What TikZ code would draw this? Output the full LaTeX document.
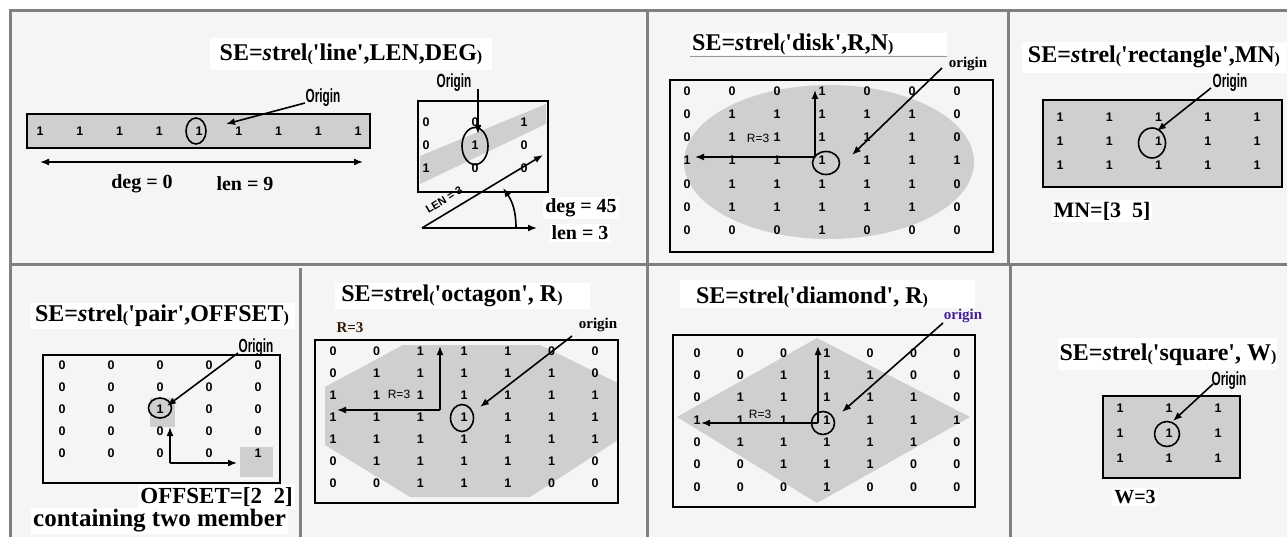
\documentclass[tikz,border=0pt]{standalone}
\usepackage{fontspec}
\setmainfont{Liberation Serif}
\newfontfamily\arl{Liberation Sans}
\usetikzlibrary{arrows.meta,shapes.geometric}
\newcommand\smp[1]{{\fontsize{16}{16}\selectfont\raisebox{-1pt}{#1}}}
\newcommand\q{\textquotesingle}
\newcommand\strl[1]{SE=\textit{s}trel\smp{(}#1\smp{)}}
\newcommand\orgtxt{\scalebox{0.62}[1]{Origin}}
% grid: name, x0, dx, y0, dy, rows
\newcommand\dgrid[6]{%
  \foreach \rw [count=\i] in {#6} {%
    \foreach \v [count=\j] in \rw {%
      \node[dig] (#1-\i-\j) at ({#2+(\j-1)*#3},{#4+(\i-1)*#5}) {\v};
    }
  }%
}
\begin{document}
\begin{tikzpicture}[x=1pt,y=-1pt,
  frm/.style={draw=black!50, line width=3pt},
  ttl/.style={font=\bfseries\fontsize{24}{24}\selectfont, inner sep=0pt},
  dig/.style={font=\arl\bfseries\fontsize{12.5}{12.5}\selectfont, inner sep=0pt},
  mbox/.style={draw=black, line width=2pt},
  gfill/.style={fill=black!19},
  arr/.style={line width=1.6pt, -{Latex[length=9pt,width=7pt]}},
  darr/.style={line width=1.6pt, {Latex[length=9pt,width=7pt]}-{Latex[length=9pt,width=7pt]}},
  orl/.style={font=\arl\bfseries\fontsize{19}{19}\selectfont, inner sep=0pt},
  orig/.style={font=\bfseries\fontsize{15}{15}\selectfont, inner sep=0pt},
  lab/.style={font=\bfseries\fontsize{20}{20}\selectfont, fill=white, inner sep=2pt},
  rlab/.style={font=\arl\fontsize{12}{12}\selectfont, inner sep=0pt},
  org/.style={draw=black, line width=1.6pt, ellipse, inner sep=0pt}
]
\useasboundingbox (0,0) rectangle (1287,537);
\fill[white] (0,0) rectangle (1287,537);
\fill[black!4] (10,11) rectangle (1287,537);
% frame
\draw[frm] (10,537) -- (10,11) -- (1287,11);
\draw[frm] (10,265) -- (1287,265);
\draw[frm] (647,11) -- (647,537);
\draw[frm] (1008,11) -- (1008,265);
\draw[frm] (1010,265) -- (1010,537);
\draw[frm] (300,268) -- (300,537);

% ---------- panel: line ----------
\fill[white] (210,38) rectangle (492,70);
\node[ttl] (t1) at (351,54) {\strl{\q line\q,LEN,DEG}};
\draw[mbox, gfill] (27,114) rectangle (370,148);
\dgrid{L}{40}{39.75}{131}{0}{{1,1,1,1,1,1,1,1,1}}
\node[org, minimum width=20pt, minimum height=26pt] (c1) at (196,131) {};
\node[orl] (o1) at (323,98) {\orgtxt};
\coordinate (o1a) at (305,103);
\coordinate (o1b) at (226,124);
\draw[arr] (o1a) -- (o1b);
\coordinate (dl) at (40,162);
\coordinate (dr) at (363,162);
\draw[darr] (dl) -- (dr);
\node[lab, fill=none] (deg0) at (142,184) {deg = 0};
\node[lab, fill=none] (len9) at (245,184) {len = 9};

% ---------- panel: line 45 ----------
\fill[gfill] (420,156) -- (546,104) -- (546,124) -- (420,184) -- cycle;
\draw[mbox] (418,101) rectangle (548,192);
\dgrid{R}{426}{49}{122}{23}{{0,0,1},{0,1,0},{1,0,0}}
\node[org, minimum width=26pt, minimum height=37pt] (c2) at (475,146) {};
\node[orl] (o2) at (454,83) {\orgtxt};
\coordinate (o2a) at (478,89);
\coordinate (o2b) at (478,134);
\draw[arr] (o2a) -- (o2b);
\coordinate (lo) at (422,228);
\coordinate (lt) at (543,155);
\coordinate (lh) at (537,228);
\draw[arr] (lo) -- (lt);
\draw[arr] (lo) -- (lh);
\node[font=\arl\bfseries\fontsize{11}{11}\selectfont, rotate=31, inner sep=0pt] (lenlab) at (444,200) {LEN = 3};
\coordinate (aa) at (516,228);
\coordinate (ab) at (503,188);
\draw[arr] (aa) to[out=90,in=-55] (ab);
\node[lab] (deg45) at (581,208) {deg = 45};
\node[lab] (len3) at (580,233) {len = 3};

% ---------- panel: disk ----------
\fill[white] (690,33) rectangle (947,55);
\draw[black!40, line width=1pt] (690,57) -- (947,57);
\node[ttl, anchor=west] (t2) at (692,44) {\strl{\q disk\q,R,N}};
\fill[black!19] (829,162) ellipse [x radius=145, y radius=77];
\draw[mbox] (670,80) rectangle (993,252);
\dgrid{D}{687}{45}{91}{23.2}{{0,0,0,1,0,0,0},{0,1,1,1,1,1,0},{0,1,1,1,1,1,0},{1,1,1,1,1,1,1},{0,1,1,1,1,1,0},{0,1,1,1,1,1,0},{0,0,0,1,0,0,0}}
\node[rlab] (rd) at (758,138) {R=3};
\node[org, minimum width=27pt, minimum height=23pt] (c3) at (826,163) {};
\coordinate (dc) at (815,157);
\coordinate (du) at (815,90);
\coordinate (dlft) at (695,157);
\draw[arr] (dc) -- (du);
\draw[arr] (dc) -- (dlft);
\node[orig] (o3) at (968,64) {origin};
\coordinate (o3a) at (942,68);
\coordinate (o3b) at (852,155);
\draw[arr] (o3a) -- (o3b);

% ---------- panel: rectangle ----------
\fill[white] (1022,42) rectangle (1286,73);
\node[ttl] (t3) at (1154,57) {\strl{\q rectangle\q,MN}};
\draw[mbox, gfill] (1043,100) rectangle (1282,187);
\dgrid{Q}{1060}{49.3}{117}{24}{{1,1,1,1,1},{1,1,1,1,1},{1,1,1,1,1}}
\node[org, minimum width=27pt, minimum height=30pt] (c4) at (1152,143) {};
\node[orl] (o4) at (1230,83) {\orgtxt};
\coordinate (o4a) at (1211,88);
\coordinate (o4b) at (1157,131);
\draw[arr] (o4a) -- (o4b);
\node[lab, font=\bfseries\fontsize{22}{22}\selectfont] (mn) at (1102,211) {MN=[3\ \ 5]};

% ---------- panel: pair ----------
\fill[white] (30,303) rectangle (295,329);
\node[ttl] (t4) at (162,316) {\strl{\q pair\q,OFFSET}};
\fill[gfill] (150,398) rectangle (175,427);
\fill[gfill] (240,447) rectangle (273,477);
\draw[mbox] (43,355) rectangle (280,483);
\dgrid{P}{62}{49}{365}{22}{{0,0,0,0,0},{0,0,0,0,0},{0,0,1,0,0},{0,0,0,0,0},{0,0,0,0,1}}
\node[org, minimum width=23pt, minimum height=20pt] (c5) at (160,408) {};
\node[orl] (o5) at (256,348) {\orgtxt};
\coordinate (o5a) at (238,353);
\coordinate (o5b) at (167,406);
\draw[arr] (o5a) -- (o5b);
\coordinate (pc) at (170,463);
\coordinate (pu) at (170,427);
\coordinate (pr) at (237,463);
\draw[arr] (pc) -- (pu);
\draw[arr] (pc) -- (pr);
\node[lab, anchor=east, font=\bfseries\fontsize{23}{23}\selectfont] (off) at (295,497) {OFFSET=[2\ \ 2]};
\node[lab, anchor=west, font=\bfseries\fontsize{25}{25}\selectfont] (cont) at (31,521) {containing two member};

% ---------- panel: octagon ----------
\fill[white] (335,283) rectangle (590,309);
\node[ttl] (t5) at (452,296) {\strl{\q octagon\q, R}};
\fill[gfill] (403,345) -- (540,345) -- (618,383) -- (618,440) -- (530,497) -- (410,497) -- (325,445) -- (325,387) -- cycle;
\draw[mbox] (315,340) rectangle (618,503);
\dgrid{O}{333}{43.7}{351}{22}{{0,0,1,1,1,0,0},{0,1,1,1,1,1,0},{1,1,1,1,1,1,1},{1,1,1,1,1,1,1},{1,1,1,1,1,1,1},{0,1,1,1,1,1,0},{0,0,1,1,1,0,0}}
\node[rlab] (ro) at (399,394) {R=3};
\node[orig, text=black!80!orange] (r3) at (350,328) {R=3};
\node[org, minimum width=23pt, minimum height=27pt] (c6) at (462,418) {};
\coordinate (oc) at (440,410);
\coordinate (ou) at (440,346);
\coordinate (ol) at (337,410);
\draw[arr] (oc) -- (ou);
\draw[arr] (oc) -- (ol);
\node[orig] (o6) at (598,325) {origin};
\coordinate (o6a) at (572,336);
\coordinate (o6b) at (480,407);
\draw[arr] (o6a) -- (o6b);

% ---------- panel: diamond ----------
\fill[white] (680,280) rectangle (975,308);
\node[ttl] (t6) at (812,297) {\strl{\q diamond\q, R}};
\fill[gfill] (817,338) -- (970,417) -- (817,503) -- (677,417) -- cycle;
\draw[mbox] (673,335) rectangle (975,507);
\dgrid{M}{697}{43.3}{353}{22.3}{{0,0,0,1,0,0,0},{0,0,1,1,1,0,0},{0,1,1,1,1,1,0},{1,1,1,1,1,1,1},{0,1,1,1,1,1,0},{0,0,1,1,1,0,0},{0,0,0,1,0,0,0}}
\node[rlab] (rm) at (760,414) {R=3};
\node[org, minimum width=23pt, minimum height=23pt] (c7) at (823,423) {};
\coordinate (mc) at (818,423);
\coordinate (mu) at (818,346);
\coordinate (ml) at (701,423);
\draw[arr] (mc) -- (mu);
\draw[arr] (mc) -- (ml);
\node[orig, text={rgb,255:red,70;green,30;blue,150}] (o7) at (963,316) {origin};
\coordinate (o7a) at (943,323);
\coordinate (o7b) at (842,412);
\draw[arr] (o7a) -- (o7b);

% ---------- panel: square ----------
\fill[white] (1058,338) rectangle (1277,370);
\node[ttl] (t7) at (1168,355) {\strl{\q square\q, W}};
\draw[mbox, gfill] (1103,396) rectangle (1240,478);
\dgrid{S}{1120}{49}{408}{25}{{1,1,1},{1,1,1},{1,1,1}}
\node[org, minimum width=25pt, minimum height=25pt] (c8) at (1167,434) {};
\node[orl] (o8) at (1229,381) {\orgtxt};
\coordinate (o8a) at (1213,384);
\coordinate (o8b) at (1173,421);
\draw[arr] (o8a) -- (o8b);
\node[lab] (w3) at (1135,497) {W=3};
\end{tikzpicture}
\end{document}
